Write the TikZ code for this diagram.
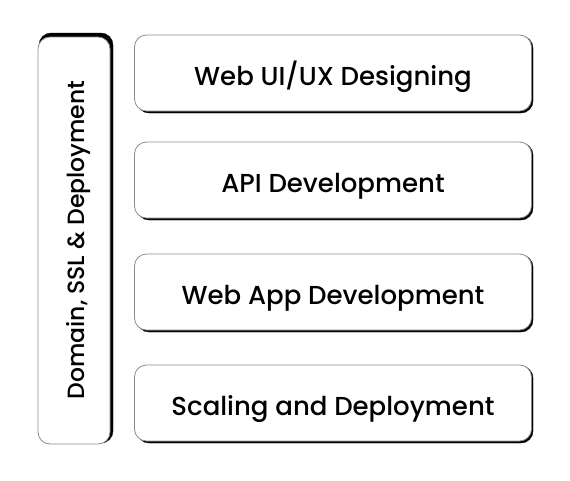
\documentclass[tikz,border=0pt]{standalone}
\usepackage{fontspec}
\setmainfont{Poppins}[UprightFont=* Medium]
\usetikzlibrary{positioning}

\tikzset{
  layer/.style={draw=black!45, line width=0.8pt, fill=white, rounded corners=12pt,
    minimum width=397pt, minimum height=76pt, inner sep=0pt, text height=25pt, text depth=0pt,
    font=\fontsize{26}{31}\selectfont},
  shade/.style={fill=black, draw=black, rounded corners=12pt},
}

\begin{document}
\begin{tikzpicture}[x=1pt, y=-1pt]
  \useasboundingbox (0,0) rectangle (570,480);
  % side band
  \fill[shade] (39,33) rectangle (113,443);
  \draw[draw=black!45, line width=0.8pt, fill=white, rounded corners=12pt] (38,37) rectangle (110,444);
  \node[rotate=90, font=\fontsize{23.5}{28}\selectfont] (side) at (79,240) {Domain, SSL \& Deployment};
  % stacked layers
  \foreach \y/\name/\txt in {73/ux/{Web UI/UX Designing}, 180/api/{API Development},
      292/app/{Web App Development}, 403/scale/{Scaling and Deployment}} {
    \fill[shade] (137,\y-37) rectangle (533,\y+40);
    \node[layer] (\name) at (333,\y) {\txt};
  }
\end{tikzpicture}
\end{document}
